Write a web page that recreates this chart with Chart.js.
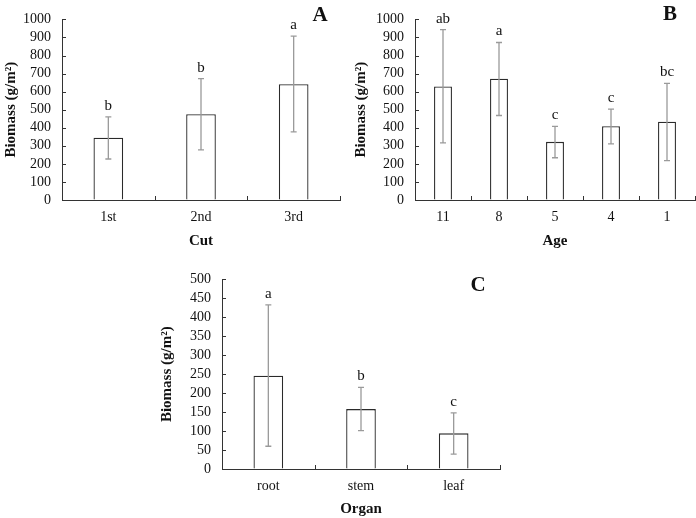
<!DOCTYPE html>
<html>
<head>
<meta charset="utf-8">
<script src="https://cdn.jsdelivr.net/npm/chart.js@4.4.0/dist/chart.umd.min.js"></script>
<style>
  body { margin: 0; background: #fff; }
  #wrap { position: relative; width: 696px; height: 518px; overflow: hidden; }
  canvas { position: absolute; }
</style>
</head>
<body>
<div id="wrap">
  <canvas id="chartA" width="348" height="250" style="left:0;top:0"></canvas>
  <canvas id="chartB" width="348" height="250" style="left:348px;top:0"></canvas>
  <canvas id="chartC" width="350" height="258" style="left:158px;top:260px"></canvas>
</div>
<script>
// Panel A - biomass by cut
const cutLabels = ['1st', '2nd', '3rd'];
const cutMeans = [345, 475, 641];
const cutLow = [227, 277, 377];
const cutHigh = [460, 672, 907];
const cutLetters = ['b', 'b', 'a'];

// Panel B - biomass by age
const ageLabels = ['11', '8', '5', '4', '1'];
const ageMeans = [629, 672, 322, 408, 433];
const ageLow = [316, 468, 234, 311, 218];
const ageHigh = [943, 872, 408, 503, 646];
const ageLetters = ['ab', 'a', 'c', 'c', 'bc'];

// Panel C - biomass by organ
const organLabels = ['root', 'stem', 'leaf'];
const organMeans = [246, 158, 94];
const organLow = [60, 101, 39];
const organHigh = [433, 215, 148];
const organLetters = ['a', 'b', 'c'];

const serif = "'Liberation Serif', 'Times New Roman', serif";
const axisColor = '#333';

// error bars, significance letters, inside ticks and panel letter
const annotate = {
  id: 'annotate',
  afterDatasetsDraw(chart, args, opts) {
    const { ctx, chartArea, scales: { x, y } } = chart;
    ctx.save();

    ctx.strokeStyle = '#9a9a9a';
    ctx.lineWidth = 1.3;
    opts.low.forEach((lo, i) => {
      const px = x.getPixelForValue(i);
      const y1 = y.getPixelForValue(lo);
      const y2 = y.getPixelForValue(opts.high[i]);
      ctx.beginPath();
      ctx.moveTo(px, y1); ctx.lineTo(px, y2);
      ctx.moveTo(px - 3, y1); ctx.lineTo(px + 3, y1);
      ctx.moveTo(px - 3, y2); ctx.lineTo(px + 3, y2);
      ctx.stroke();
    });

    ctx.fillStyle = '#111';
    ctx.font = '15px ' + serif;
    ctx.textAlign = 'center';
    ctx.textBaseline = 'middle';
    opts.letters.forEach((t, i) => {
      ctx.fillText(t, x.getPixelForValue(i), y.getPixelForValue(opts.high[i]) - 11);
    });

    // tick marks pointing inward
    ctx.strokeStyle = axisColor;
    ctx.lineWidth = 1;
    ctx.beginPath();
    y.ticks.forEach(t => {
      const py = Math.round(y.getPixelForValue(t.value)) + 0.5;
      ctx.moveTo(chartArea.left, py); ctx.lineTo(chartArea.left + 4, py);
    });
    for (let i = 0; i <= opts.low.length; i++) {
      const px = Math.round(x.getPixelForValue(i - 0.5)) + 0.5;
      ctx.moveTo(px, chartArea.bottom); ctx.lineTo(px, chartArea.bottom - 4);
    }
    ctx.stroke();

    ctx.font = 'bold 21px ' + serif;
    ctx.fillText(opts.panel, opts.panelX, opts.panelY);
    ctx.restore();
  }
};

function createPanel(canvasId, labels, means, low, high, letters, cfg) {
  const ctx = document.getElementById(canvasId);
  return new Chart(ctx, {
    type: 'bar',
    data: {
      labels: labels,
      datasets: [{
        data: means,
        backgroundColor: '#ffffff',
        borderColor: '#2a2a2a',
        borderWidth: 1.3,
        barPercentage: 0.32,
        categoryPercentage: 1
      }]
    },
    options: {
      responsive: false,
      animation: false,
      layout: { padding: { top: cfg.top, right: cfg.right, left: 0, bottom: 0 } },
      scales: {
        x: {
          grid: { display: true, drawOnChartArea: false, drawTicks: false, offset: true },
          border: { color: axisColor, width: 1 },
          ticks: { color: '#111', padding: 9, font: { family: serif, size: 14 } },
          title: {
            display: true, text: cfg.xTitle, color: '#111',
            padding: { top: 4, bottom: 0 },
            font: { family: serif, size: 15, weight: 'bold' }
          },
          afterFit: s => { s.height = cfg.xHeight; }
        },
        y: {
          min: 0, max: cfg.max,
          grid: { display: true, drawOnChartArea: false, drawTicks: false },
          border: { color: axisColor, width: 1 },
          ticks: {
            stepSize: cfg.step, autoSkip: false, color: '#111', padding: 11,
            font: { family: serif, size: 14 },
            callback: v => String(v)
          },
          title: {
            display: true, text: 'Biomass (g/m²)', color: '#111',
            padding: { top: cfg.titlePad, bottom: 0 },
            font: { family: serif, size: 15, weight: 'bold' }
          },
          afterFit: s => { s.width = cfg.yWidth; }
        }
      },
      plugins: {
        legend: { display: false },
        tooltip: { enabled: false },
        annotate: {
          low: low, high: high, letters: letters,
          panel: cfg.panel, panelX: cfg.panelX, panelY: cfg.panelY
        }
      }
    },
    plugins: [annotate]
  });
}

createPanel('chartA', cutLabels, cutMeans, cutLow, cutHigh, cutLetters, {
  xTitle: 'Cut', max: 1000, step: 100, top: 10, right: 8, xHeight: 50,
  yWidth: 62, titlePad: 2, panel: 'A', panelX: 320, panelY: 16
});

createPanel('chartB', ageLabels, ageMeans, ageLow, ageHigh, ageLetters, {
  xTitle: 'Age', max: 1000, step: 100, top: 10, right: 1, xHeight: 50,
  yWidth: 67, titlePad: 4, panel: 'B', panelX: 322, panelY: 15
});

createPanel('chartC', organLabels, organMeans, organLow, organHigh, organLetters, {
  xTitle: 'Organ', max: 500, step: 50, top: 19, right: 8, xHeight: 49,
  yWidth: 64, titlePad: 0, panel: 'C', panelX: 320, panelY: 26
});
</script>
</body>
</html>
